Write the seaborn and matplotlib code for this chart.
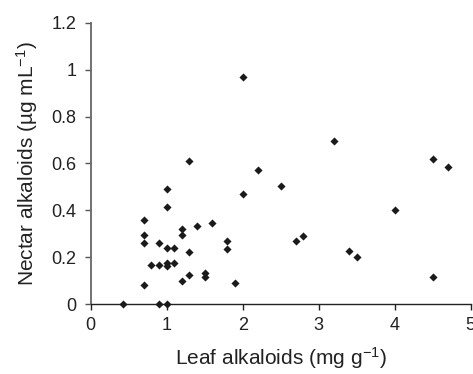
import matplotlib
matplotlib.use("Agg")
import matplotlib.pyplot as plt
import seaborn as sns
import pandas as pd

leaf_alkaloids = [0.42, 0.90, 1.00, 0.70, 0.70, 0.70, 0.70, 0.80, 0.90, 0.90,
                  1.00, 1.00, 1.00, 1.00, 1.00, 1.10, 1.10, 1.20, 1.20, 1.20,
                  1.30, 1.30, 1.30, 1.40, 1.50, 1.50, 1.60, 1.80, 1.80, 1.90,
                  2.00, 2.00, 2.20, 2.50, 2.70, 2.80, 3.20, 3.40, 3.50, 4.00,
                  4.50, 4.50, 4.70]
nectar_alkaloids = [0.0, 0.0, 0.0, 0.080, 0.259, 0.294, 0.358, 0.166, 0.166, 0.259,
                    0.163, 0.177, 0.240, 0.415, 0.489, 0.175, 0.240, 0.100, 0.294, 0.319,
                    0.125, 0.222, 0.610, 0.333, 0.117, 0.131, 0.348, 0.236, 0.267, 0.090,
                    0.469, 0.970, 0.570, 0.505, 0.267, 0.291, 0.697, 0.228, 0.200, 0.402,
                    0.115, 0.621, 0.586]
x_ticks = [0, 1, 2, 3, 4, 5]
y_ticks = [0, 0.2, 0.4, 0.6, 0.8, 1.0, 1.2]
y_tick_labels = ["0", "0.2", "0.4", "0.6", "0.8", "1", "1.2"]

sns.set_style("ticks")
plt.rcParams["font.family"] = ["Liberation Sans", "DejaVu Sans"]
plt.rcParams["mathtext.fontset"] = "custom"
plt.rcParams["mathtext.rm"] = "Liberation Sans"
plt.rcParams["mathtext.default"] = "rm"

df = pd.DataFrame({"leaf": leaf_alkaloids, "nectar": nectar_alkaloids})

fig = plt.figure(figsize=(4.73, 3.74), dpi=100)
ax = fig.add_axes([0.1918, 0.187, 0.803, 0.752])
sns.scatterplot(data=df, x="leaf", y="nectar", marker="D", s=17,
                color="#1a1a1a", linewidth=0, ax=ax, clip_on=False, zorder=3)

ax.set_xlim(0, 5)
ax.set_ylim(0, 1.2)
ax.set_xticks(x_ticks)
ax.set_xticklabels([str(t) for t in x_ticks])
ax.set_yticks(y_ticks)
ax.set_yticklabels(y_tick_labels)
ax.tick_params(axis="both", labelsize=13, length=4.5, width=1, colors="#222222")
ax.tick_params(axis="x", pad=5)
ax.tick_params(axis="y", pad=6, color="#555555")
for s in ["top", "right"]:
    ax.spines[s].set_visible(False)
ax.spines["left"].set_color("#666666")
ax.spines["left"].set_linewidth(1.3)
ax.spines["bottom"].set_color("#222222")
ax.spines["bottom"].set_linewidth(1.0)

ax.set_xlabel("Leaf alkaloids (mg g$^{-1}$)", fontsize=15, labelpad=8, color="#222222")
ax.set_ylabel("Nectar alkaloids (µg mL$^{-1}$)", fontsize=15, labelpad=8, color="#222222")

fig.savefig("out.png", dpi=100)
